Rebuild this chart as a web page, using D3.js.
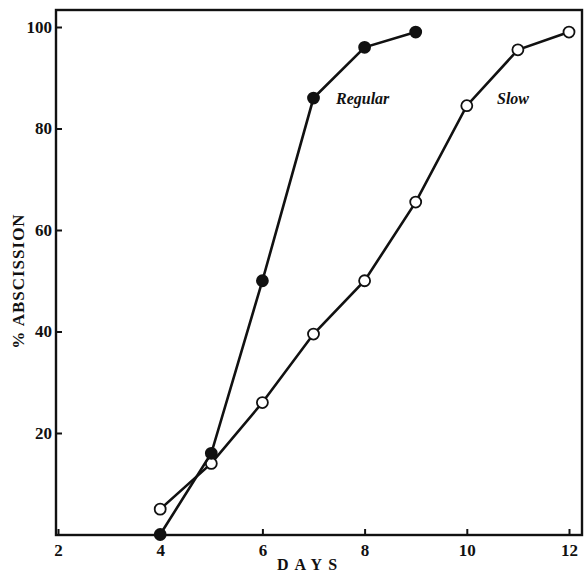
<!DOCTYPE html>
<html>
<head>
<meta charset="utf-8">
<script src="https://cdn.jsdelivr.net/npm/d3@7"></script>
<style>
  body { margin: 0; background: #fff; }
  text { font-family: "Liberation Serif", "DejaVu Serif", serif; fill: #111; }
</style>
</head>
<body>
<script>
// DATA
var regularDays = [4, 5, 6, 7, 8, 9];
var regularPct = [0, 16, 50, 86, 96, 99];
var slowDays = [4, 5, 6, 7, 8, 9, 10, 11, 12];
var slowPct = [5, 14, 26, 39.5, 50, 65.5, 84.5, 95.5, 99];
var xTicks = [2, 4, 6, 8, 10, 12];
var yTicks = [20, 40, 60, 80, 100];

var width = 585, height = 575;
var margin = { top: 10, right: 2, bottom: 40, left: 56 };

var svg = d3.select("body").append("svg")
  .attr("width", width)
  .attr("height", height);

// scales
var x = d3.scaleLinear().domain([2, 12]).range([58, 569]);
var y = d3.scaleLinear().domain([0, 100]).range([534.5, 27]);

var boxL = margin.left, boxT = margin.top,
  boxR = width - margin.right, boxB = 535;

// frame (left, top, right, bottom)
svg.append("rect")
  .attr("x", boxL).attr("y", boxT)
  .attr("width", boxR - boxL - 1).attr("height", boxB - boxT)
  .attr("fill", "none").attr("stroke", "#111").attr("stroke-width", 2.4);

// x axis
var xAxis = svg.append("g")
  .attr("transform", "translate(0," + boxB + ")")
  .call(d3.axisBottom(x).tickValues(xTicks).tickSizeInner(-6).tickSizeOuter(0).tickPadding(9));
xAxis.select(".domain").remove();
xAxis.selectAll("line").attr("stroke", "#111").attr("stroke-width", 2);
xAxis.selectAll("text")
  .style("font-size", "17px").style("font-weight", "bold").attr("fill", "#111");

// y axis
var yAxis = svg.append("g")
  .attr("transform", "translate(" + boxL + ",0)")
  .call(d3.axisLeft(y).tickValues(yTicks).tickSizeInner(-6).tickSizeOuter(0).tickPadding(4));
yAxis.select(".domain").remove();
yAxis.selectAll("line").attr("stroke", "#111").attr("stroke-width", 2);
yAxis.selectAll("text")
  .style("font-size", "17px").style("font-weight", "bold").attr("fill", "#111");

// axis titles
svg.append("text")
  .attr("x", 310).attr("y", 570)
  .attr("text-anchor", "middle")
  .style("font-size", "16px").style("font-weight", "bold")
  .style("letter-spacing", "6px")
  .text("DAYS");

svg.append("text")
  .attr("transform", "translate(24,281) rotate(-90)")
  .attr("text-anchor", "middle")
  .style("font-size", "17px").style("font-weight", "bold")
  .style("letter-spacing", "1px")
  .text("% ABSCISSION");

var line = d3.line()
  .x(function (d) { return x(d[0]); })
  .y(function (d) { return y(d[1]); });

function series(days, pct, fill) {
  var pts = d3.zip(days, pct);
  svg.append("path")
    .datum(pts)
    .attr("d", line)
    .attr("fill", "none")
    .attr("stroke", "#111")
    .attr("stroke-width", 2.6);
  svg.selectAll(null)
    .data(pts)
    .enter().append("circle")
    .attr("cx", function (d) { return x(d[0]); })
    .attr("cy", function (d) { return y(d[1]); })
    .attr("r", 5.5)
    .attr("fill", fill)
    .attr("stroke", "#111")
    .attr("stroke-width", 1.8);
}

series(slowDays, slowPct, "#fff");
series(regularDays, regularPct, "#111");

// series labels
svg.append("text")
  .attr("x", 336).attr("y", 104)
  .style("font-size", "16px").style("font-weight", "bold").style("font-style", "italic")
  .text("Regular");
svg.append("text")
  .attr("x", 497).attr("y", 104)
  .style("font-size", "16px").style("font-weight", "bold").style("font-style", "italic")
  .text("Slow");
</script>
</body>
</html>
